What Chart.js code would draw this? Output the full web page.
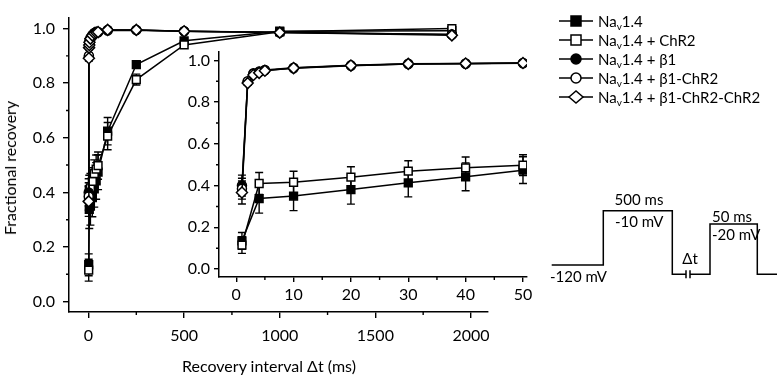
<!DOCTYPE html>
<html>
<head>
<meta charset="utf-8">
<script src="https://cdn.jsdelivr.net/npm/chart.js@4.4.1/dist/chart.umd.min.js"></script>
<style>
  html, body { margin: 0; padding: 0; background: #fff; }
  #wrap { position: relative; width: 777px; height: 377px; overflow: hidden;
          font-family: Lato, 'Noto Sans', 'DejaVu Sans', sans-serif; color: #000; }
  #wrap canvas { position: absolute; left: 0; top: 0; }
  .lbl { position: absolute; white-space: nowrap; line-height: 1; }
  .leg { position: absolute; left: 559px; height: 16px; display: flex; align-items: center;
         font-size: 15px; white-space: nowrap; transform: translateY(-50%); }
  .leg svg { margin-right: 5px; }
  .leg sub { font-size: 10px; vertical-align: -3px; line-height: 0; }
</style>
</head>
<body>
<div id="wrap">
  <canvas id="main" width="777" height="377"></canvas>
  <canvas id="inset" width="777" height="377"></canvas>
  <canvas id="proto" width="777" height="377"></canvas>
  <div class="lbl" id="ytitle" style="left:10px; top:168px; font-size:16px; transform:translate(-50%,-50%) rotate(-90deg);">Fractional recovery</div>
  <div class="lbl" id="xtitle" style="left:269px; top:366px; font-size:16px; transform:translate(-50%,-50%);">Recovery interval Δt (ms)</div>
  <div id="legend"></div>
  <div class="lbl" style="left:639px; top:199px; font-size:15px; transform:translate(-50%,-50%);">500 ms</div>
  <div class="lbl" style="left:615px; top:221px; font-size:15px; transform:translateY(-50%);">-10 mV</div>
  <div class="lbl" style="left:550px; top:276px; font-size:15px; transform:translateY(-50%);">-120 mV</div>
  <div class="lbl" style="left:690px; top:258px; font-size:15px; transform:translate(-50%,-50%);">Δt</div>
  <div class="lbl" style="left:732px; top:216px; font-size:15px; transform:translate(-50%,-50%);">50 ms</div>
  <div class="lbl" style="left:712px; top:234px; font-size:15px; transform:translateY(-50%);">-20 mV</div>
</div>
<script>
// recovery intervals (ms)
const sqX = [1, 4, 10, 20, 30, 40, 50, 100, 250, 500, 1000, 1900];
const cX  = [1, 2, 3, 4, 5, 10, 20, 30, 40, 50, 100, 250, 500, 1000, 1900];

// Nav1.4 and Nav1.4 + ChR2
const nav      = [0.135, 0.338, 0.350, 0.381, 0.413, 0.442, 0.474, 0.624, 0.868, 0.955, 0.990, 0.992];
const navErr   = [0.040, 0.070, 0.070, 0.070, 0.067, 0.067, 0.064, 0.050, 0.012, 0.010, 0.005, 0.005];
const chr2     = [0.115, 0.410, 0.416, 0.440, 0.469, 0.485, 0.498, 0.606, 0.813, 0.940, 0.988, 1.000];
const chr2Err  = [0.040, 0.053, 0.053, 0.050, 0.050, 0.052, 0.050, 0.050, 0.020, 0.012, 0.005, 0.005];

// Nav1.4 + beta1 variants
const b1       = [0.400, 0.897, 0.938, 0.946, 0.954, 0.965, 0.976, 0.984, 0.985, 0.987, 0.995, 0.995, 0.990, 0.986, 0.978];
const b1Err    = [0.050, 0.010, 0.008, 0.006, 0.006, 0.006, 0.005, 0.005, 0.005, 0.005, 0.004, 0.004, 0.004, 0.004, 0.004];
const b1c      = [0.385, 0.900, 0.936, 0.944, 0.952, 0.962, 0.974, 0.982, 0.984, 0.986, 0.993, 0.994, 0.990, 0.985, 0.978];
const b1cErr   = [0.050, 0.010, 0.008, 0.006, 0.006, 0.006, 0.005, 0.005, 0.005, 0.005, 0.004, 0.004, 0.004, 0.004, 0.004];
const b1cc     = [0.367, 0.891, 0.930, 0.940, 0.950, 0.963, 0.975, 0.983, 0.985, 0.987, 0.995, 0.995, 0.990, 0.985, 0.975];
const b1ccErr  = [0.055, 0.010, 0.008, 0.006, 0.006, 0.006, 0.005, 0.005, 0.005, 0.005, 0.004, 0.004, 0.004, 0.004, 0.004];

const names = ['Nav1.4', 'Nav1.4 + ChR2', 'Nav1.4 + β1', 'Nav1.4 + β1-ChR2', 'Nav1.4 + β1-ChR2-ChR2'];

// axis ticks
const mainXTicks = [0, 500, 1000, 1500, 2000];
const mainXMinor = [250, 750, 1250, 1750];
const yTicks = [0, 0.2, 0.4, 0.6, 0.8, 1.0];
const yMinor = [0.1, 0.3, 0.5, 0.7, 0.9];
const insetXTicks = [0, 10, 20, 30, 40, 50];
const insetXMinor = [5, 15, 25, 35, 45];

// stimulation protocol (schematic time units, normalised level)
const protoTime  = [0, 51.6, 51.6, 120.6, 120.6, 134.3, 134.3, 134.3, 136.3, 138.3, 138.3, 138.3, 158.3, 158.3, 205.6, 205.6, 225.3];
const protoLevel = [0, 0, 1, 1, -0.171, -0.171, -0.097, -0.245, null, -0.097, -0.245, -0.171, -0.171, 0.755, 0.755, -0.171, -0.171];

const FONT = "Lato, 'Noto Sans', sans-serif";

const series = [
  { xs: sqX, ys: nav,  err: navErr,  style: 'rect',    r: 5.5, fill: '#000' },
  { xs: sqX, ys: chr2, err: chr2Err, style: 'rect',    r: 5.5, fill: '#fff' },
  { xs: cX,  ys: b1,   err: b1Err,   style: 'circle',  r: 4.5, fill: '#000' },
  { xs: cX,  ys: b1c,  err: b1cErr,  style: 'circle',  r: 4.5, fill: '#fff' },
  { xs: cX,  ys: b1cc, err: b1ccErr, style: 'rectRot', r: 5.5, fill: '#fff' }
];

function makeDatasets(maxX) {
  return series.map((s, k) => {
    const pts = [], errs = [];
    s.xs.forEach((x, i) => { if (x <= maxX) { pts.push({ x: x, y: s.ys[i] }); errs.push(s.err[i]); } });
    return {
      label: names[k], data: pts, errors: errs,
      borderColor: '#000', borderWidth: 1.5, tension: 0,
      pointStyle: s.style, pointRadius: s.r, pointBackgroundColor: s.fill,
      pointBorderColor: '#000', pointBorderWidth: 1.5, order: 5 - k
    };
  });
}

const errorBars = {
  id: 'errorBars',
  beforeDatasetsDraw(chart) {
    const ctx = chart.ctx, xs = chart.scales.x, ys = chart.scales.y;
    ctx.save();
    ctx.strokeStyle = '#000'; ctx.lineWidth = 1.4;
    chart.data.datasets.forEach(ds => {
      ds.data.forEach((p, i) => {
        const e = ds.errors[i];
        const px = xs.getPixelForValue(p.x);
        const t = ys.getPixelForValue(p.y + e), b = ys.getPixelForValue(p.y - e);
        ctx.beginPath();
        ctx.moveTo(px, t); ctx.lineTo(px, b);
        ctx.moveTo(px - 4, t); ctx.lineTo(px + 4, t);
        ctx.moveTo(px - 4, b); ctx.lineTo(px + 4, b);
        ctx.stroke();
      });
    });
    ctx.restore();
  }
};

const minorTicks = {
  id: 'minorTicks',
  afterDraw(chart, args, opts) {
    const ctx = chart.ctx, xs = chart.scales.x, ys = chart.scales.y, a = chart.chartArea;
    ctx.save();
    ctx.strokeStyle = '#000'; ctx.lineWidth = 1.4;
    ctx.beginPath();
    opts.x.forEach(v => { const p = xs.getPixelForValue(v); ctx.moveTo(p, a.bottom); ctx.lineTo(p, a.bottom + opts.len); });
    opts.y.forEach(v => { const p = ys.getPixelForValue(v); ctx.moveTo(a.left - opts.len, p); ctx.lineTo(a.left, p); });
    ctx.stroke();
    ctx.restore();
  }
};

function axis(min, max, ticks, tickLen, pad, size, fontSize) {
  return {
    type: 'linear', min: min, max: max,
    border: { color: '#000', width: 1.5 },
    grid: { drawOnChartArea: false, drawTicks: true, tickLength: tickLen, color: '#000', lineWidth: 1.4 },
    ticks: { color: '#000', padding: pad, font: { family: FONT, size: fontSize },
             callback: v => String(v) },
    afterBuildTicks: s => { s.ticks = ticks.map(v => ({ value: v })); },
    afterFit: s => { if (s.isHorizontal()) s.height = size; else s.width = size; }
  };
}

function yAxis(tickLen, pad, size, fontSize) {
  const a = axis(-0.038, 1.04, yTicks, tickLen, pad, size, fontSize);
  a.ticks.callback = v => v.toFixed(1);
  return a;
}

new Chart(document.getElementById('main'), {
  type: 'line',
  data: { datasets: makeDatasets(Infinity) },
  options: {
    responsive: false, animation: false,
    layout: { padding: { left: 0, top: 0, right: 289, bottom: 0 } },
    plugins: { legend: { display: false }, tooltip: { enabled: false },
               minorTicks: { x: mainXMinor, y: yMinor, len: 3 } },
    scales: {
      x: axis(-102, 2089, mainXTicks, 6, 8, 65, 16),
      y: yAxis(6, 8, 69, 16)
    }
  },
  plugins: [errorBars, minorTicks]
});

new Chart(document.getElementById('inset'), {
  type: 'line',
  data: { datasets: makeDatasets(50) },
  options: {
    responsive: false, animation: false,
    layout: { padding: { left: 159, top: 52, right: 250, bottom: 70 } },
    plugins: { legend: { display: false }, tooltip: { enabled: false },
               minorTicks: { x: insetXMinor, y: yMinor, len: 3 } },
    scales: {
      x: axis(-3, 50.7, insetXTicks, 5, 3, 30, 16),
      y: yAxis(5, 4, 60, 16)
    }
  },
  plugins: [errorBars, minorTicks]
});

new Chart(document.getElementById('proto'), {
  type: 'line',
  data: { datasets: [{
    data: protoTime.map((t, i) => ({ x: t, y: protoLevel[i] })),
    borderColor: '#000', borderWidth: 1.5, pointRadius: 0, tension: 0, spanGaps: false, clip: false
  }] },
  options: {
    responsive: false, animation: false,
    layout: { padding: { left: 551.7, top: 210.7, right: 0, bottom: 102.7 } },
    plugins: { legend: { display: false }, tooltip: { enabled: false } },
    scales: {
      x: { type: 'linear', display: false, min: 0, max: 225.3 },
      y: { type: 'linear', display: false, min: -0.171, max: 1 }
    }
  }
});

// legend
const legRows = [20.7, 40, 59.3, 77.7, 96.7];
const legend = document.getElementById('legend');
series.forEach((s, k) => {
  let mark;
  if (s.style === 'rect') mark = `<rect x="12" y="3" width="10" height="10" fill="${s.fill}" stroke="#000" stroke-width="1.5"/>`;
  else if (s.style === 'circle') mark = `<circle cx="17" cy="8" r="5" fill="${s.fill}" stroke="#000" stroke-width="1.5"/>`;
  else mark = `<polygon points="10,8 17,2 24,8 17,14" fill="${s.fill}" stroke="#000" stroke-width="1.5"/>`;
  const row = document.createElement('div');
  row.className = 'leg';
  row.style.top = legRows[k] + 'px';
  row.innerHTML = `<svg width="34" height="16"><line x1="0" y1="8" x2="34" y2="8" stroke="#000" stroke-width="1.5"/>${mark}</svg>` +
                  `<span>${names[k].replace('Nav', 'Na<sub>v</sub>')}</span>`;
  legend.appendChild(row);
});
</script>
</body>
</html>
